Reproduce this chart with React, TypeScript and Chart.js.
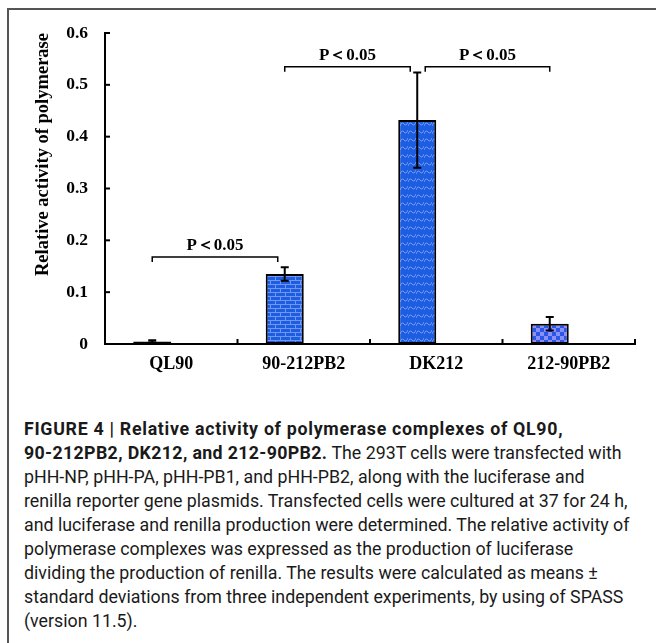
import React, { useEffect, useRef } from "react";
import { Chart, registerables } from "chart.js";

Chart.register(...registerables);

const categories = ["QL90", "90-212PB2", "DK212", "212-90PB2"];
const means = [0.005, 0.135, 0.432, 0.039];
const sds = [0.002, 0.013, 0.092, 0.013];
const yTicks = [0, 0.1, 0.2, 0.3, 0.4, 0.5, 0.6];
const barPatterns = ["solid", "brick", "wave", "checker"];
const sigLabel = "P＜0.05";
const bracketFrom = [0, 1, 2];
const bracketTo = [1, 2, 3];
const bracketLevel = [0.168, 0.535, 0.535];
const yTitle = "Relative activity of polymerase";

const captionBold1 = "FIGURE 4 | Relative activity of polymerase complexes of QL90,";
const captionBold2 = "90-212PB2, DK212, and 212-90PB2.";
const captionLines = [
  " The 293T cells were transfected with",
  "pHH-NP, pHH-PA, pHH-PB1, and pHH-PB2, along with the luciferase and",
  "renilla reporter gene plasmids. Transfected cells were cultured at 37 for 24 h,",
  "and luciferase and renilla production were determined. The relative activity of",
  "polymerase complexes was expressed as the production of luciferase",
  "dividing the production of renilla. The results were calculated as means \u00b1",
  "standard deviations from three independent experiments, by using of SPASS",
  "(version 11.5).",
];

const BLUE = "#1c5de2";
const LIGHT = "#7197f2";
const SERIF = "'Liberation Serif', 'Times New Roman', serif";

function makePattern(kind: string): CanvasPattern | string {
  const c = document.createElement("canvas");
  const g = c.getContext("2d");
  if (!g) return BLUE;
  if (kind === "brick") {
    c.width = 10; c.height = 8;
    g.fillStyle = BLUE; g.fillRect(0, 0, 10, 8);
    g.fillStyle = LIGHT;
    g.fillRect(0, 0, 10, 1);
    g.fillRect(0, 4, 10, 1);
    g.fillRect(0, 0, 1, 4);
    g.fillRect(5, 4, 1, 4);
  } else if (kind === "wave") {
    c.width = 8; c.height = 8;
    g.fillStyle = BLUE; g.fillRect(0, 0, 8, 8);
    g.strokeStyle = LIGHT; g.lineWidth = 1;
    g.beginPath();
    g.moveTo(0, 6); g.quadraticCurveTo(2, 1, 4, 4); g.quadraticCurveTo(6, 7, 8, 2);
    g.stroke();
  } else if (kind === "checker") {
    c.width = 8; c.height = 8;
    g.fillStyle = "#2a58e6"; g.fillRect(0, 0, 8, 8);
    g.fillStyle = "#8d8ef7";
    g.fillRect(0, 0, 4, 4); g.fillRect(4, 4, 4, 4);
  } else {
    return BLUE;
  }
  return g.createPattern(c, "repeat") || BLUE;
}

const decorPlugin = {
  id: "decor",
  afterDatasetsDraw(chart: any) {
    const ctx = chart.ctx;
    const xs = chart.scales.x;
    const ys = chart.scales.y;
    const area = chart.chartArea;
    const meta = chart.getDatasetMeta(0);
    ctx.save();
    ctx.strokeStyle = "#000";
    ctx.fillStyle = "#000";
    ctx.lineWidth = 2;
    yTicks.forEach((v) => {
      const y = ys.getPixelForValue(v);
      ctx.beginPath();
      ctx.moveTo(area.left, y);
      ctx.lineTo(area.left + 5, y);
      ctx.stroke();
    });
    for (let i = 1; i <= categories.length; i++) {
      const x = xs.getPixelForValue(i - 0.5);
      ctx.beginPath();
      ctx.moveTo(x, area.bottom);
      ctx.lineTo(x, area.bottom - 5);
      ctx.stroke();
    }
    ctx.lineWidth = 2;
    meta.data.forEach((el: any, i: number) => {
      const x = el.x;
      const yt = ys.getPixelForValue(means[i] + sds[i]);
      const yb = ys.getPixelForValue(Math.max(0, means[i] - sds[i]));
      ctx.beginPath();
      ctx.moveTo(x, yt); ctx.lineTo(x, yb);
      ctx.moveTo(x - 4, yt); ctx.lineTo(x + 4, yt);
      ctx.moveTo(x - 4, yb); ctx.lineTo(x + 4, yb);
      ctx.stroke();
    });
    ctx.lineWidth = 1.5;
    ctx.font = "bold 17px " + SERIF;
    ctx.textAlign = "center";
    ctx.textBaseline = "middle";
    bracketFrom.forEach((a, k) => {
      const b = bracketTo[k];
      const level = bracketLevel[k];
      let x1 = meta.data[a].x;
      let x2 = meta.data[b].x;
      if (means[a] + sds[a] > level - 0.05) x1 += 8;
      if (means[b] + sds[b] > level - 0.05) x2 -= 7;
      const y = ys.getPixelForValue(level);
      ctx.beginPath();
      ctx.moveTo(x1, y + 5); ctx.lineTo(x1, y); ctx.lineTo(x2, y); ctx.lineTo(x2, y + 5);
      ctx.stroke();
      ctx.fillText(sigLabel, (x1 + x2) / 2, y - 11);
    });
    ctx.restore();
  },
};

export default function App() {
  const ref = useRef<HTMLCanvasElement>(null);
  useEffect(() => {
    if (!ref.current) return;
    const fills = barPatterns.map((p) => makePattern(p));
    const chart = new Chart(ref.current, {
      type: "bar",
      data: {
        labels: categories,
        datasets: [
          {
            label: "Relative activity",
            data: means,
            backgroundColor: fills as any,
            borderColor: "#000",
            borderWidth: 2,
            borderSkipped: false,
          },
          {
            label: "",
            data: categories.map(() => null),
          },
        ],
      },
      options: {
        animation: false,
        responsive: false,
        events: [],
        layout: { padding: { left: 0, right: 21, top: 33, bottom: 0 } },
        datasets: { bar: { categoryPercentage: 0.574, barPercentage: 1 } },
        plugins: { legend: { display: false }, tooltip: { enabled: false } },
        scales: {
          x: {
            offset: true,
            grid: { display: false },
            border: { display: true, color: "#000", width: 2 },
            ticks: {
              color: "#000",
              padding: 2,
              font: { family: SERIF, weight: "bold", size: 18 },
            },
            afterFit: (s: any) => { s.height = 41; },
          },
          y: {
            min: 0,
            max: 0.6,
            grid: { display: false },
            border: { display: true, color: "#000", width: 2 },
            afterBuildTicks: (s: any) => { s.ticks = yTicks.map((v) => ({ value: v })); },
            ticks: {
              color: "#000",
              padding: 9,
              font: { family: SERIF, weight: "bold", size: 17.5 },
              callback: (v: any) => (Number(v) === 0 ? "0" : Number(v).toFixed(1)),
            },
            title: {
              display: true,
              text: yTitle,
              align: "end",
              color: "#000",
              padding: { top: 32, bottom: 0 },
              font: { family: SERIF, weight: "bold", size: 18.5 },
            },
            afterFit: (s: any) => { s.width = 105; },
          },
        },
      },
      plugins: [decorPlugin],
    });
    return () => chart.destroy();
  }, []);

  const capStyle: React.CSSProperties = {
    position: "absolute",
    left: 24,
    top: 417,
    fontFamily: "Roboto, 'Liberation Sans', sans-serif",
    fontSize: 17.8,
    lineHeight: "24px",
    color: "#1a1a1a",
    whiteSpace: "nowrap",
  };
  const boldStyle: React.CSSProperties = { fontWeight: 700, letterSpacing: "0.35px" };

  return (
    <div style={{ position: "absolute", left: 0, top: 0, width: 656, height: 643, background: "#fff", overflow: "hidden" }}>
      <canvas ref={ref} width={656} height={385} style={{ position: "absolute", left: 0, top: 0, width: 656, height: 385 }} />
      <div style={{ position: "absolute", left: 7, top: 8, width: 649, height: 2, background: "#555" }} />
      <div style={{ position: "absolute", left: 7, top: 8, width: 2, height: 635, background: "#555" }} />
      <div style={capStyle}>
        <div style={{ ...boldStyle, letterSpacing: "0.7px" }}>{captionBold1}</div>
        <div>
          <span style={boldStyle}>{captionBold2}</span>
          {captionLines[0]}
        </div>
        {captionLines.slice(1).map((t, i) => (
          <div key={i}>{t}</div>
        ))}
      </div>
    </div>
  );
}
